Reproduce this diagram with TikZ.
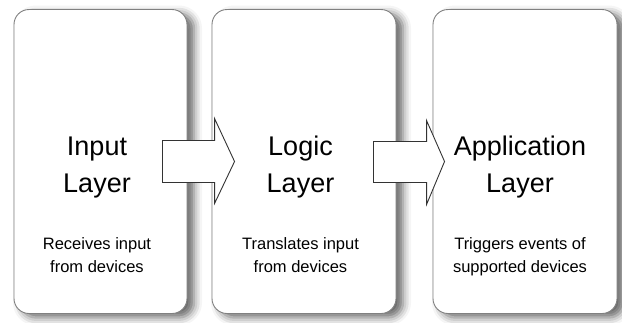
\documentclass[tikz,border=0pt]{standalone}
\usepackage{fontspec}
\setmainfont{Liberation Sans}
\usetikzlibrary{shadows.blur,calc}
\begin{document}
\begin{tikzpicture}[x=1pt,y=-1pt,
  layerbox/.style={draw=black!50, line width=0.9pt, fill=white,
    rounded corners=15pt, minimum height=304pt, inner sep=0pt,
    blur shadow={shadow xshift=7pt, shadow yshift=-4pt,
      shadow blur radius=8pt, shadow opacity=60}},
  title/.style={font=\fontsize{27}{37}\selectfont, anchor=base, inner sep=0pt},
  note/.style={font=\fontsize{16.5}{23}\selectfont, anchor=base, inner sep=0pt},
  blockarrow/.style={draw=black!80, line width=0.9pt, fill=white, line join=miter}
]
\useasboundingbox (0,0) rectangle (622,322);

% the three layers
\node[layerbox, minimum width=173pt] (input) at (100.5,161.5) {};
\node[layerbox, minimum width=184pt] (logic) at (304,161.5) {};
\node[layerbox, minimum width=184pt] (app)   at (525,161.5) {};

% labels of each layer
\node[title] (t1a) at (97,155) {Input};
\node[title] (t1b) at (97,192) {Layer};
\node[note]  (n1a) at (97,249) {Receives input};
\node[note]  (n1b) at (97,272) {from devices};

\node[title] (t2a) at (300.5,155) {Logic};
\node[title] (t2b) at (300.5,192) {Layer};
\node[note]  (n2a) at (300.5,249) {Translates input};
\node[note]  (n2b) at (300.5,272) {from devices};

\node[title] (t3a) at (520,155) {Application};
\node[title] (t3b) at (520,192) {Layer};
\node[note]  (n3a) at (520,249) {Triggers events of};
\node[note]  (n3b) at (520,272) {supported devices};

% block arrows between the layers
\draw[blockarrow] ($(input.east)+(-25,-21)$) -- ($(logic.west)+(3,-21)$)
  -- ($(logic.west)+(3,-43)$) -- ($(logic.west)+(23,0)$)
  -- ($(logic.west)+(3,42)$) -- ($(logic.west)+(3,21)$)
  -- ($(input.east)+(-25,21)$) -- cycle;
\draw[blockarrow] ($(logic.east)+(-23,-20)$) -- ($(app.west)+(-6,-20)$)
  -- ($(app.west)+(-6,-41)$) -- ($(app.west)+(12,0)$)
  -- ($(app.west)+(-6,43)$) -- ($(app.west)+(-6,21)$)
  -- ($(logic.east)+(-23,21)$) -- cycle;
\end{tikzpicture}
\end{document}
